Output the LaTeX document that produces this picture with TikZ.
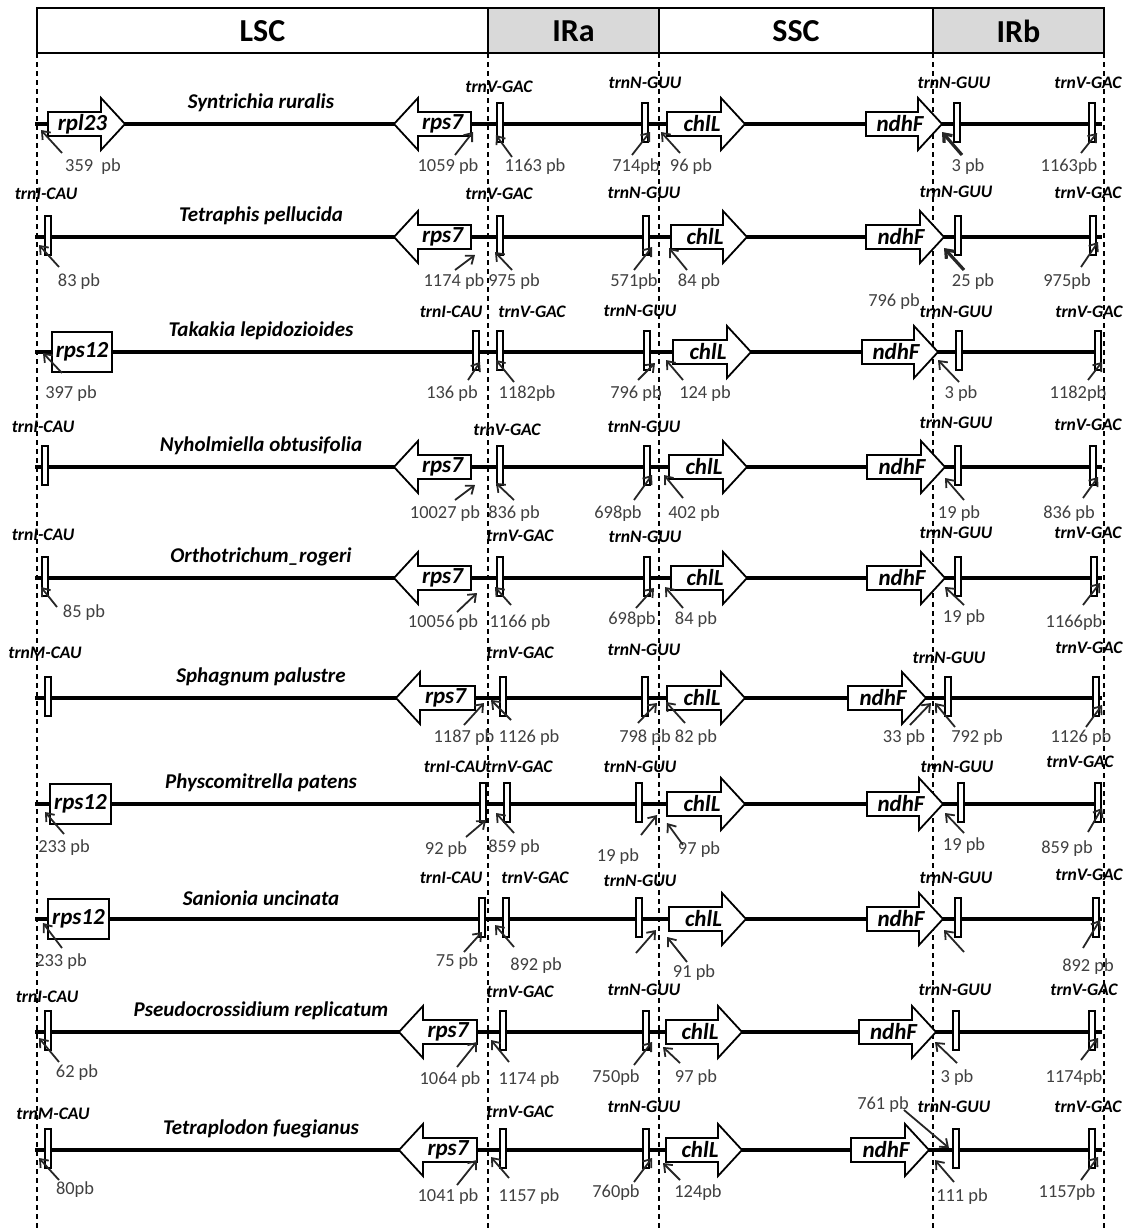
\documentclass[tikz,border=0pt]{standalone}
\usepackage{fontspec}
\setmainfont{Carlito}
\usetikzlibrary{arrows.meta}

\begin{document}
\begin{tikzpicture}[x=0.5pt, y=-0.5pt,
    hdr/.style={font=\fontsize{16}{19}\selectfont\bfseries},
    guide/.style={line width=0.6pt, dash pattern=on 2.5pt off 2pt},
    chrom/.style={line width=2.4pt},
    gene/.style={draw, fill=white, line width=0.9pt},
    genelab/.style={font=\fontsize{11.5}{13}\selectfont\bfseries\itshape, inner sep=0pt},
    species/.style={font=\fontsize{10.5}{12}\selectfont\bfseries\itshape},
    trna/.style={draw, fill=white, line width=0.75pt},
    trnlab/.style={font=\fontsize{8.8}{10}\selectfont\bfseries\itshape, inner sep=0pt},
    pb/.style={font=\fontsize{9.2}{11}\selectfont, text=black!75, inner sep=0pt},
    ptr/.style={-{Straight Barb[length=3.5pt,width=5.5pt]}, black!85}]
        \useasboundingbox (0,0) rectangle (1128,1232);
        \foreach \a/\b/\f/\t in {37/488/white/LSC, 488/659/gray!30/IRa, 659/933/white/SSC, 933/1104/gray!30/IRb} { \draw[fill=\f, line width=1pt] (\a,8) rectangle (\b,53); \node[hdr] (\t) at ({(\a+\b)/2},31) {\t}; }
        \foreach \x in {37,488,659,933,1104} { \draw[guide] (\x,53) -- (\x,1232); }
        \foreach \y/\spc [count=\i] in {124/Syntrichia ruralis, 237/Tetraphis pellucida, 352/Takakia lepidozioides, 467/Nyholmiella obtusifolia, 578/Orthotrichum\_rogeri, 698/Sphagnum palustre, 804/Physcomitrella patens, 919/Sanionia uncinata, 1032/Pseudocrossidium replicatum, 1150/Tetraplodon fuegianus} {
            \draw[chrom] (35,\y) -- (1102,\y);
            \node[species] (sp\i) at (261,\y-21) {\spc};
        }
        \foreach \g/\y/\a/\t [count=\i] in {rpl23/124/48/125, chlL/124/667/745, ndhF/124/866/942, chlL/237/671/747, ndhF/237/866/944, chlL/352/673/751, ndhF/352/862/938, chlL/467/669/747, ndhF/467/867/945, chlL/578/671/747, ndhF/578/867/945, chlL/698/667/745, ndhF/698/848/926, chlL/804/667/745, ndhF/804/867/943, chlL/919/669/746, ndhF/919/867/943, chlL/1032/666/742, ndhF/1032/859/936, chlL/1150/666/742, ndhF/1150/851/929} {
            \draw[gene] (\a,\y-12) -- (\t-24,\y-12) -- (\t-24,\y-26) -- (\t,\y) -- (\t-24,\y+26) -- (\t-24,\y+12) -- (\a,\y+12) -- cycle;
            \node[genelab] (fw\i) at ({(\a+\t-24)/2+8},\y) {\g};
        }
        \foreach \y/\t/\r [count=\i] in {124/394/471, 237/394/471, 467/394/471, 578/394/471, 698/396/475, 1032/399/477, 1150/399/477} {
            \draw[gene] (\r,\y-12) -- (\t+24,\y-12) -- (\t+24,\y-26) -- (\t,\y) -- (\t+24,\y+26) -- (\t+24,\y+12) -- (\r,\y+12) -- cycle;
            \node[genelab] (rv\i) at ({(\t+24+\r)/2-2},\y) {rps7};
        }
        \foreach \y/\a/\b [count=\i] in {352/52/112, 804/50/111, 919/48/109} {
            \draw[gene] (\a,\y-20) rectangle (\b,\y+20);
            \node[genelab] (bx\i) at ({(\a+\b)/2},\y) {rps12};
        }
        \foreach \x/\y/\lx/\ly/\t [count=\i] in {500/124/499/87/trnV-GAC, 645/124/645/83/trnN-GUU, 957/124/954/83/trnN-GUU, 1092/124/1088/83/trnV-GAC,
            48/237/46/194/trnI-CAU, 500/237/499/194/trnV-GAC, 646/237/644/193/trnN-GUU, 958/237/956/192/trnN-GUU, 1093/237/1088/193/trnV-GAC,
            476/352/451/312/trnI-CAU, 500/352/532/312/trnV-GAC, 647/352/640/311/trnN-GUU, 959/352/956/312/trnN-GUU, 1098/352/1089/312/trnV-GAC,
            45/467/43/427/trnI-CAU, 500/467/507/430/trnV-GAC, 647/467/644/427/trnN-GUU, 958/467/956/423/trnN-GUU, 1093/467/1088/425/trnV-GAC,
            45/578/43/535/trnI-CAU, 500/578/520/536/trnV-GAC, 647/578/645/537/trnN-GUU, 958/578/956/533/trnN-GUU, 1094/578/1088/533/trnV-GAC,
            48/698/45/653/trnM-CAU, 503/698/520/653/trnV-GAC, 645/698/644/650/trnN-GUU, 948/698/949/658/trnN-GUU, 1096/698/1089/648/trnV-GAC,
            483/804/455/767/trnI-CAU, 507/804/519/767/trnV-GAC, 639/804/640/767/trnN-GUU, 961/804/957/767/trnN-GUU, 1098/804/1080/762/trnV-GAC,
            482/919/451/878/trnI-CAU, 506/919/535/878/trnV-GAC, 639/919/640/881/trnN-GUU, 958/919/956/878/trnN-GUU, 1096/919/1089/875/trnV-GAC,
            48/1032/47/997/trnI-CAU, 503/1032/520/992/trnV-GAC, 646/1032/644/990/trnN-GUU, 956/1032/955/990/trnN-GUU, 1092/1032/1084/990/trnV-GAC,
            48/1150/53/1114/trnM-CAU, 503/1150/520/1112/trnV-GAC, 646/1150/644/1107/trnN-GUU, 956/1150/954/1107/trnN-GUU, 1092/1150/1088/1107/trnV-GAC} {
            \draw[trna] (\x-3,\y-21) rectangle (\x+3,\y+18);
            \node[trnlab] (tr\i) at (\lx,\ly) {\t};
        }
        \foreach \t/\lx/\ly/\ax/\ay/\bx/\by/\w [count=\i] in {359~~pb/93/167/62/153/41/130/0.9, 1059 pb/448/167/455/155/473/132/0.9, 1163 pb/535/167/512/157/496/135/0.9, 714pb/636/167/632/155/650/132/0.9, 96 pb/691/167/680/153/661/132/0.9, 3 pb/968/167/962/155/942/132/1.6, 1163pb/1069/167/1081/153/1097/133/0.9,
            83 pb/79/282/59/267/39/245/0.9, 1174 pb/454/282/455/270/475/255/0.9, 975 pb/514/282/512/270/495/252/0.9, 571pb/634/282/634/270/652/247/0.9, 84 pb/699/282/687/270/669/248/0.9, 25 pb/973/282/964/270/944/248/1.6, 975pb/1067/282/1081/267/1098/242/0.9,
            397 pb/71/394/62/373/43/353/0.9, 136 pb/452/394/468/380/480/362/0.9, 1182pb/527/394/514/382/496/360/0.9, 796 pb/636/394/638/380/655/363/0.9, 124 pb/705/394/683/380/666/360/0.9, 3 pb/961/394/959/382/938/360/0.9, 1182pb/1078/394/1088/380/1102/362/0.9,
            10027 pb/445/514/455/500/475/485/0.9, 836 pb/514/514/514/500/496/483/0.9, 698pb/618/514/634/500/652/475/0.9, 402 pb/694/514/683/498/664/475/0.9, 19 pb/959/514/964/500/945/478/0.9, 836 pb/1069/514/1083/498/1098/477/0.9,
            85 pb/84/613/57/607/41/587/0.9, 10056 pb/443/623/457/612/477/593/0.9, 1166 pb/520/623/511/605/495/587/0.9, 698pb/632/620/636/608/654/588/0.9, 84 pb/696/620/683/608/665/587/0.9, 19 pb/964/618/964/605/945/587/0.9, 1166pb/1074/623/1083/605/1100/583/0.9,
            1187 pb/464/738/464/725/484/703/0.9, 1126 pb/529/738/511/720/491/700/0.9, 798 pb/645/738/638/723/657/703/0.9, 82 pb/696/738/685/723/666/702/0.9, 33 pb/904/738/910/725/931/703/0.9, 792 pb/977/738/955/727/935/703/0.9, 1126 pb/1081/738/1086/727/1102/705/0.9,
            233 pb/64/848/64/834/45/812/0.9, 92 pb/446/850/466/837/486/820/0.9, 859 pb/514/848/514/833/496/813/0.9, 19 pb/618/857/641/835/657/815/0.9, 97 pb/699/850/683/845/667/823/0.9, 19 pb/964/846/964/833/945/813/0.9, 859 pb/1067/849/1088/832/1102/808/0.9,
            233 pb/61/962/62/948/43/923/0.9, 75 pb/457/962/464/952/482/932/0.9, 892 pb/536/966/514/947/495/925/0.9, 91 pb/694/973/687/962/667/937/0.9, 892 pb/1088/967/1083/948/1100/920/0.9,
            62 pb/77/1073/59/1062/39/1038/0.9, 1064 pb/450/1080/457/1067/477/1042/0.9, 1174 pb/529/1080/509/1062/491/1040/0.9, 750pb/616/1078/634/1065/652/1042/0.9, 97 pb/696/1078/680/1063/663/1047/0.9, 3 pb/957/1078/957/1063/935/1042/0.9, 1174pb/1074/1078/1081/1060/1098/1038/0.9,
            80pb/75/1190/59/1180/39/1158/0.9, 1041 pb/448/1197/457/1185/477/1160/0.9, 1157 pb/529/1197/509/1178/491/1157/0.9, 760pb/616/1193/634/1182/652/1158/0.9, 124pb/698/1193/680/1180/663/1163/0.9, 761 pb/883/1105/904/1110/949/1148/0.9, 111 pb/962/1197/954/1182/935/1160/0.9, 1157pb/1067/1193/1081/1180/1098/1157/0.9} {
            \node[pb] (pl\i) at (\lx,\ly) {\t};
            \coordinate (pa\i) at (\ax,\ay);
            \coordinate (pb\i) at (\bx,\by);
            \draw[ptr, line width=\w pt] (pa\i) -- (pb\i);
        }
        \foreach \ax/\ay/\bx/\by [count=\i] in {636/953/656/930, 964/952/944/930} {
            \coordinate (qa\i) at (\ax,\ay);
            \coordinate (qb\i) at (\bx,\by);
            \draw[ptr, line width=0.9pt] (qa\i) -- (qb\i);
        }
        \node[pb] (pbx) at (894,302) {796 pb};
    \end{tikzpicture}
\end{document}
